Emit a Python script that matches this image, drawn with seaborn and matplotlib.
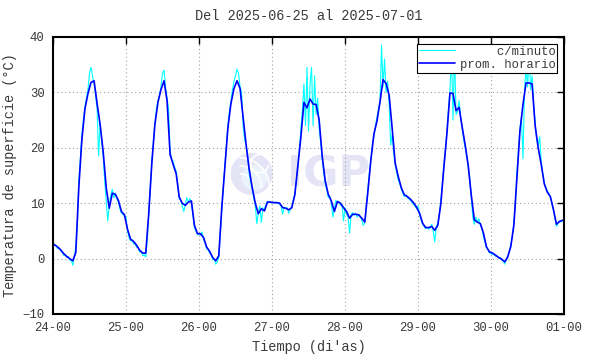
import numpy as np
import pandas as pd
import matplotlib
matplotlib.use('Agg')
import matplotlib.pyplot as plt
import seaborn as sns
from matplotlib.patches import Ellipse, Arc

# Hourly means (prom. horario), one value per hour, centred on the half hour
prom_24 = [2.5, 2.1, 1.6, 0.9, 0.4, 0.0, -0.4, 1.1, 13.0, 21.5, 27.0, 29.8,
           31.8, 32.1, 28.0, 24.2, 19.3, 12.8, 9.1, 11.8, 11.6, 10.5, 8.5, 7.9]
prom_25 = [5.3, 3.5, 3.1, 2.4, 1.5, 1.0, 1.0, 8.3, 17.3, 24.2, 28.2, 30.5,
           32.1, 28.5, 18.8, 17.0, 15.3, 11.1, 10.0, 9.6, 10.2, 10.4, 6.0, 4.5]
prom_26 = [4.5, 3.8, 2.1, 1.3, 0.2, -0.4, 0.5, 9.3, 16.5, 23.6, 28.0, 30.7,
           32.1, 30.7, 25.5, 20.5, 16.1, 12.8, 10.0, 8.1, 9.0, 8.6, 10.2, 10.2]
prom_27 = [10.1, 10.1, 10.0, 9.2, 9.1, 8.8, 9.2, 11.5, 16.8, 22.0, 28.2, 27.2,
           28.8, 27.9, 27.8, 25.0, 18.5, 14.0, 11.6, 10.4, 8.5, 10.3, 10.0, 9.2]
prom_28 = [8.5, 7.3, 8.0, 8.0, 7.9, 7.3, 6.6, 12.0, 17.8, 22.5, 24.8, 28.3,
           32.3, 31.6, 29.5, 23.5, 17.2, 14.8, 12.8, 11.5, 11.2, 10.7, 10.1, 9.3]
prom_29 = [8.2, 6.4, 5.6, 5.6, 5.8, 5.1, 6.0, 9.9, 16.5, 22.6, 29.9, 29.8,
           26.7, 27.3, 23.8, 20.5, 16.8, 11.5, 7.0, 6.6, 6.3, 4.6, 2.1, 1.2]
prom_30 = [1.0, 0.6, 0.2, -0.1, -0.6, 0.3, 2.2, 6.0, 14.5, 23.0, 27.8, 31.7,
           31.7, 31.5, 24.0, 20.0, 17.0, 13.5, 12.0, 11.2, 8.9, 6.2, 6.7, 6.9]

# Per-minute series (c/minuto), read every half hour
min_24 = [3.2, 2.4, 2.4, 1.8, 2.0, 1.4, 1.3, 0.6, 0.8, 0.2, 0.4, -0.3,
          -0.2, -1.2, 0.3, 2.2, 6.0, 14.0, 18.0, 22.5, 25.0, 27.5, 29.0, 30.5,
          33.5, 34.5, 33.0, 31.5, 29.5, 27.0, 18.5, 24.5, 21.5, 18.5, 14.0, 10.5,
          6.8, 9.5, 11.5, 12.5, 11.0, 11.8, 10.8, 10.2, 9.0, 8.2, 8.0, 7.6]
min_25 = [7.5, 5.0, 3.8, 3.2, 3.4, 2.6, 2.8, 2.0, 2.0, 1.2, 1.3, 0.5,
          0.7, 0.3, 3.5, 8.0, 13.0, 17.5, 21.0, 24.5, 27.0, 28.5, 29.5, 31.0,
          33.5, 34.0, 31.0, 29.0, 27.0, 19.5, 18.0, 17.5, 16.5, 15.8, 13.5, 10.8,
          10.5, 9.5, 8.5, 9.8, 11.0, 10.3, 10.8, 10.0, 8.0, 5.5, 5.0, 4.3]
min_26 = [4.5, 4.2, 4.8, 3.4, 2.8, 1.8, 1.6, 1.0, 0.8, -0.2, -0.1, -1.0,
          -0.6, 0.2, 4.5, 9.0, 13.0, 16.8, 20.5, 24.0, 26.5, 28.5, 30.5, 32.0,
          33.0, 34.2, 33.5, 31.0, 30.0, 24.0, 21.5, 20.5, 18.5, 15.5, 13.8, 12.5,
          11.0, 9.5, 6.3, 8.3, 9.5, 6.5, 9.2, 8.8, 9.8, 10.3, 10.3, 10.1]
min_27 = [10.1, 10.2, 10.0, 10.2, 10.0, 9.8, 9.5, 8.0, 9.3, 9.0, 9.2, 8.2,
          8.8, 9.4, 10.5, 11.8, 14.0, 17.0, 19.5, 23.5, 27.0, 31.5, 24.0, 34.5,
          23.0, 31.5, 34.5, 24.0, 33.0, 26.0, 29.0, 23.5, 21.0, 18.0, 15.5, 13.5,
          12.5, 11.0, 11.3, 10.0, 7.5, 9.0, 10.5, 10.0, 10.3, 9.6, 9.8, 6.8]
min_28 = [9.2, 8.0, 7.5, 4.6, 8.0, 8.3, 7.8, 8.2, 7.5, 8.0, 7.6, 7.0,
          6.0, 6.5, 9.5, 12.5, 15.5, 18.0, 20.5, 22.0, 24.0, 25.5, 27.0, 28.5,
          38.5, 31.0, 36.0, 30.0, 32.0, 28.0, 20.5, 22.5, 19.0, 17.0, 15.5, 14.2,
          13.5, 12.5, 11.8, 11.2, 11.5, 11.0, 10.8, 10.5, 10.2, 9.8, 9.5, 9.0]
min_29 = [9.5, 8.0, 7.0, 6.2, 5.8, 5.4, 5.7, 5.3, 5.5, 6.2, 5.0, 3.0,
          5.8, 6.3, 8.0, 10.5, 13.5, 16.8, 19.5, 23.0, 27.0, 30.5, 37.0, 25.0,
          37.5, 26.0, 26.5, 28.5, 25.5, 23.5, 21.5, 20.0, 18.5, 16.5, 14.5, 11.0,
          7.5, 6.2, 7.5, 6.5, 7.2, 6.0, 5.5, 4.0, 3.0, 2.0, 1.6, 1.0]
min_30 = [1.0, 0.7, 0.8, 0.4, 0.5, 0.1, 0.2, -0.3, -0.4, -1.0, -0.2, 0.5,
          1.3, 2.5, 4.0, 6.5, 10.0, 15.5, 19.5, 23.5, 25.5, 18.0, 30.0, 35.0,
          31.0, 36.5, 30.5, 33.0, 28.0, 24.5, 21.5, 20.5, 22.0, 17.5, 15.5, 13.8,
          12.8, 12.2, 11.8, 11.0, 10.0, 8.8, 7.5, 5.8, 6.4, 6.8, 6.6, 7.0, 6.8]

tick_labels = ['24-00', '25-00', '26-00', '27-00', '28-00', '29-00', '30-00', '01-00']

prom = np.array(prom_24 + prom_25 + prom_26 + prom_27 + prom_28 + prom_29 + prom_30)
minuto = np.array(min_24 + min_25 + min_26 + min_27 + min_28 + min_29 + min_30)

# time in days since 24-00
df_prom = pd.DataFrame({'t': (np.arange(len(prom)) + 0.5) / 24, 'temp': prom})
df_min = pd.DataFrame({'t': np.arange(len(minuto)) * 0.5 / 24, 'temp': minuto})

sns.set_theme(style='white')
plt.rcParams['font.family'] = ['Liberation Mono', 'DejaVu Sans Mono']
txt = '#3a3a3a'

fig = plt.figure(figsize=(5.9, 3.54), dpi=100)
ax = fig.add_axes([0.0898, 0.113, 0.8662, 0.7825])

# IGP watermark (pixel sizes converted to data units: 73 px/day, 5.54 px/degree)
px_x, px_y = 1 / 73, 1 / 5.54
cx, cy = 2.72, 15.3
ax.add_patch(Ellipse((cx, cy), 42 * px_x, 42 * px_y, facecolor='#e4e4f6',
                     edgecolor='none', zorder=0.5))
ax.add_patch(Ellipse((cx + 3 * px_x, cy - 4 * px_y), 26 * px_x, 26 * px_y,
                     facecolor='#eaf2fc', edgecolor='none', zorder=0.55))
for r in [14, 22, 30]:
    ax.add_patch(Arc((cx - 12 * px_x, cy - 14 * px_y), r * 2 * px_x, r * 2 * px_y,
                     theta1=0, theta2=90, color='white', lw=1.2, zorder=0.6))
ax.add_patch(Arc((cx + 8 * px_x, cy + 10 * px_y), 18 * px_x, 18 * px_y,
                 theta1=90, theta2=300, color='white', lw=1.2, zorder=0.6))
ax.text(3.2, 15.1, 'IGP', fontsize=31, fontweight='bold', color='#e4e4f6',
        family='DejaVu Sans', ha='left', va='center', zorder=0.5)

sns.lineplot(data=df_min, x='t', y='temp', ax=ax, color='#00ffff', lw=0.8,
             label='     c/minuto', estimator=None, sort=False, zorder=2)
sns.lineplot(data=df_prom, x='t', y='temp', ax=ax, color='#0000ff', lw=1.2,
             label='prom. horario', estimator=None, sort=False, zorder=3)

ax.set_xlim(0, 7)
ax.set_ylim(-10, 40)
ax.set_xticks(range(8))
ax.set_xticklabels(tick_labels)
ax.set_yticks(range(-10, 41, 10))
ax.grid(True, linestyle=(0, (1, 2.5)), color='#a0a0a0', lw=0.8)
ax.tick_params(direction='in', length=5, width=1, top=True, right=True,
               labelsize=8.8, colors='black', labelcolor=txt, pad=6)
for s in ax.spines.values():
    s.set_linewidth(1.5)
    s.set_color('black')

ax.set_title('Del 2025-06-25 al 2025-07-01', fontsize=9.8, color=txt, pad=12)
ax.set_xlabel("Tiempo (di'as)", fontsize=9.8, color=txt, labelpad=4)
ax.set_ylabel('Temperatura de superficie (°C)', fontsize=9.8, color=txt, labelpad=4)

leg = ax.legend(loc='upper right', fontsize=8.8, frameon=True, fancybox=False,
                edgecolor='black', framealpha=1, borderaxespad=0.55,
                handlelength=2.9, borderpad=0.15, labelspacing=0.1, handletextpad=0.4)
leg.get_frame().set_linewidth(0.8)
for t in leg.get_texts():
    t.set_color(txt)

fig.savefig('out.png', dpi=100)
